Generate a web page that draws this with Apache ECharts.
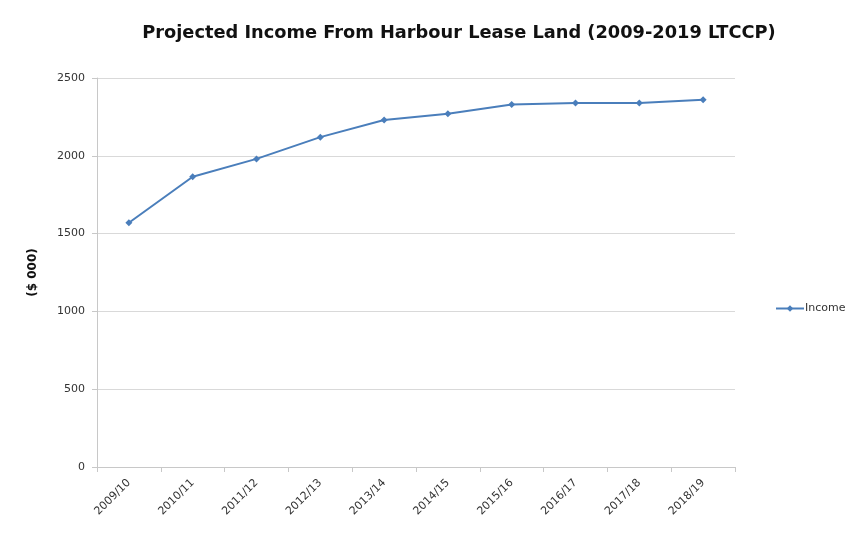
<!DOCTYPE html>
<html><head><meta charset="utf-8">
<script src="https://cdn.jsdelivr.net/npm/echarts@6/dist/echarts.min.js"></script>
<style>html,body{margin:0;padding:0;background:#fff}#c{width:852px;height:539px}</style>
</head><body><div id="c"></div>
<script>
const categories = ['2009/10','2010/11','2011/12','2012/13','2013/14','2014/15','2015/16','2016/17','2017/18','2018/19'];
const income = [1570, 1865, 1980, 2120, 2230, 2270, 2330, 2340, 2340, 2360];
const yTicks = {min: 0, max: 2500, interval: 500};

const chart = echarts.init(document.getElementById('c'));
const font = 'DejaVu Sans';
chart.setOption({
  animation: false,
  backgroundColor: '#fff',
  title: {
    text: 'Projected Income From Harbour Lease Land (2009-2019 LTCCP)',
    left: 454, top: 19, textAlign: 'center',
    textStyle: {fontFamily: font, fontSize: 17.8, fontWeight: 'bold', color: '#111'}
  },
  legend: {
    left: 770, top: 298, orient: 'vertical',
    itemWidth: 28, itemHeight: 8, itemGap: 4,
    textStyle: {fontFamily: font, fontSize: 11, color: '#333', padding: [0,0,0,-4]},
    data: ['Income']
  },
  grid: {left: 97, right: 117, top: 78, bottom: 72, containLabel: false},
  xAxis: {
    type: 'category', data: categories, boundaryGap: true,
    axisLine: {lineStyle: {color: '#c8c8c8'}},
    axisTick: {show: true, length: 5, lineStyle: {color: '#c8c8c8'}},
    axisLabel: {rotate: 45, fontFamily: font, fontSize: 11, color: '#333', margin: 14}
  },
  yAxis: {
    type: 'value', min: yTicks.min, max: yTicks.max, interval: yTicks.interval,
    name: '($ 000)', nameLocation: 'middle', nameGap: 58, nameRotate: 90,
    nameTextStyle: {fontFamily: font, fontSize: 12, fontWeight: 'bold', color: '#111'},
    axisLine: {show: true, lineStyle: {color: '#c8c8c8'}},
    axisTick: {show: true, length: 5, lineStyle: {color: '#c8c8c8'}},
    axisLabel: {fontFamily: font, fontSize: 11, color: '#333', margin: 12, formatter: v => String(v)},
    splitLine: {lineStyle: {color: '#d9d9d9'}}
  },
  series: [{
    name: 'Income', type: 'line', data: income,
    symbol: 'diamond', symbolSize: 7,
    lineStyle: {color: '#4a7ebb', width: 2},
    itemStyle: {color: '#4a7ebb'}
  }]
});
</script></body></html>
